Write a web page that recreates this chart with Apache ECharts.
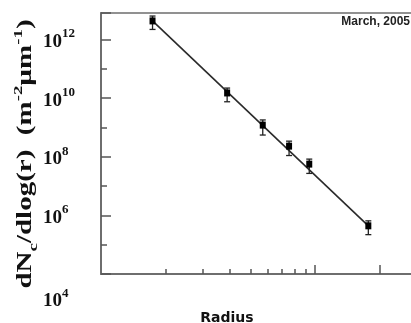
<!DOCTYPE html>
<html>
<head>
<meta charset="utf-8">
<script src="https://cdn.jsdelivr.net/npm/echarts@6/dist/echarts.min.js"></script>
<style>
  html, body { margin: 0; padding: 0; background: #fff; }
  #chart { width: 411px; height: 323px; }
</style>
</head>
<body>
<div id="chart"></div>
<script>
// measured points (radius, dNc/dlog r)
const radius = [0.174, 0.388, 0.569, 0.755, 0.938, 1.77]
const density = [4.3e12, 1.5e10, 1.2e9, 2.3e8, 5.6e7, 4.4e5]
const errLow = [2.2e12, 7.5e9, 5.5e8, 1.1e8, 2.7e7, 2.2e5]
const errHigh = [6.3e12, 2.2e10, 1.8e9, 3.4e8, 8.3e7, 6.5e5]

// power-law fit end points
const fitX = [0.174, 1.77]
const fitY = [4.3e12, 4.4e5]

// x tick positions (no labels on the original)
const xMinorTicks = [0.2, 0.3, 0.4, 0.5, 0.6, 0.7, 0.8, 0.9]
const xMajorTicks = [1, 2]

const chart = echarts.init(document.getElementById('chart'))

const axisGray = '#6e6e6e'
const serif = '"Liberation Serif", "DejaVu Serif", serif'

const option = {
  backgroundColor: '#fff',
  animation: false,
  grid: { left: 101, right: 0, top: 13, bottom: 49 },
  title: [{
    text: 'Radius',
    left: 222,
    top: 306,
    textAlign: 'center',
    textStyle: { fontFamily: '"DejaVu Sans"', fontWeight: 'bold', fontSize: 14, color: '#111' }
  }, {
    text: 'March, 2005',
    right: -4,
    top: 11,
    textStyle: { fontFamily: '"Liberation Sans", Arial', fontWeight: 'bold', fontSize: 12, color: '#222' }
  }],
  graphic: [{
    type: 'text',
    x: 26,
    y: 154,
    rotation: Math.PI / 2,
    scaleX: 1.45,
    style: {
      text: '{m|dN}{sub|c}{m|/dlog(r)  (m}{sup|-2}{m|µm}{sup|-1}{m|)}',
      align: 'center',
      verticalAlign: 'middle',
      fill: '#111',
      rich: {
        m: { fontFamily: serif, fontWeight: 'bold', fontSize: 20, lineHeight: 28, verticalAlign: 'middle', fill: '#111' },
        sub: { fontFamily: serif, fontWeight: 'bold', fontSize: 13, verticalAlign: 'bottom', fill: '#111' },
        sup: { fontFamily: serif, fontWeight: 'bold', fontSize: 13, verticalAlign: 'top', fill: '#111' }
      }
    }
  }],
  xAxis: [{
    type: 'log',
    logBase: 10,
    min: 0.1,
    max: 2.8,
    position: 'bottom',
    axisLine: { lineStyle: { color: axisGray, width: 2 } },
    axisTick: { inside: true, length: 5, customValues: xMinorTicks, lineStyle: { color: '#555', width: 1.5 } },
    axisLabel: { show: false },
    splitLine: { show: false }
  }, {
    type: 'log',
    logBase: 10,
    min: 0.1,
    max: 2.8,
    position: 'bottom',
    axisLine: { show: false },
    axisTick: { inside: true, length: 9, customValues: xMajorTicks, lineStyle: { color: '#555', width: 1.5 } },
    axisLabel: { show: false },
    splitLine: { show: false }
  }, {
    type: 'log',
    logBase: 10,
    min: 0.1,
    max: 2.8,
    position: 'top',
    axisLine: { lineStyle: { color: axisGray, width: 1.5 } },
    axisTick: { show: false },
    axisLabel: { show: false },
    splitLine: { show: false }
  }],
  yAxis: [{
    type: 'log',
    logBase: 10,
    min: 1e4,
    max: 8e12,
    interval: 1,
    axisLine: { lineStyle: { color: axisGray, width: 2 } },
    axisTick: { inside: true, length: 6, lineStyle: { color: '#555', width: 1.5 } },
    splitLine: { show: false },
    axisLabel: {
      margin: 58,
      align: 'left',
      formatter: function (v) {
        const e = Math.round(Math.log10(v))
        if (e % 2 !== 0 || e > 12) return ''
        if (e === 4) return '{gap|}\n{b|10}{s|' + e + '}'
        return '{b|10}{s|' + e + '}'
      },
      rich: {
        b: { fontFamily: serif, fontWeight: 'bold', fontSize: 19, color: '#111', verticalAlign: 'bottom', lineHeight: 24 },
        s: { fontFamily: serif, fontWeight: 'bold', fontSize: 13, color: '#111', verticalAlign: 'top', lineHeight: 24 },
        gap: { height: 50, lineHeight: 50 }
      }
    }
  }, {
    type: 'log',
    logBase: 10,
    min: 1e4,
    max: 8e12,
    interval: 2,
    position: 'left',
    axisLine: { show: false },
    axisTick: { inside: true, length: 10, lineStyle: { color: '#555', width: 1.5 } },
    axisLabel: { show: false },
    splitLine: { show: false }
  }],
  series: [{
    name: 'fit',
    type: 'line',
    data: fitX.map((x, i) => [x, fitY[i]]),
    symbol: 'none',
    lineStyle: { color: '#2a2a2a', width: 1.6 },
    z: 2
  }, {
    name: 'error',
    type: 'custom',
    data: radius.map((x, i) => [x, errLow[i], errHigh[i]]),
    renderItem: function (params, api) {
      const lo = api.coord([api.value(0), api.value(1)])
      const hi = api.coord([api.value(0), api.value(2)])
      const cap = 3
      const st = { stroke: '#222', lineWidth: 1.3 }
      return {
        type: 'group',
        children: [
          { type: 'line', shape: { x1: lo[0], y1: lo[1], x2: hi[0], y2: hi[1] }, style: st },
          { type: 'line', shape: { x1: lo[0] - cap, y1: lo[1], x2: lo[0] + cap, y2: lo[1] }, style: st },
          { type: 'line', shape: { x1: hi[0] - cap, y1: hi[1], x2: hi[0] + cap, y2: hi[1] }, style: st }
        ]
      }
    },
    z: 3
  }, {
    name: 'data',
    type: 'scatter',
    data: radius.map((x, i) => [x, density[i]]),
    symbol: 'rect',
    symbolSize: [6, 7],
    itemStyle: { color: '#000', opacity: 1 },
    z: 4
  }]
}

chart.setOption(option)
</script>
</body>
</html>
